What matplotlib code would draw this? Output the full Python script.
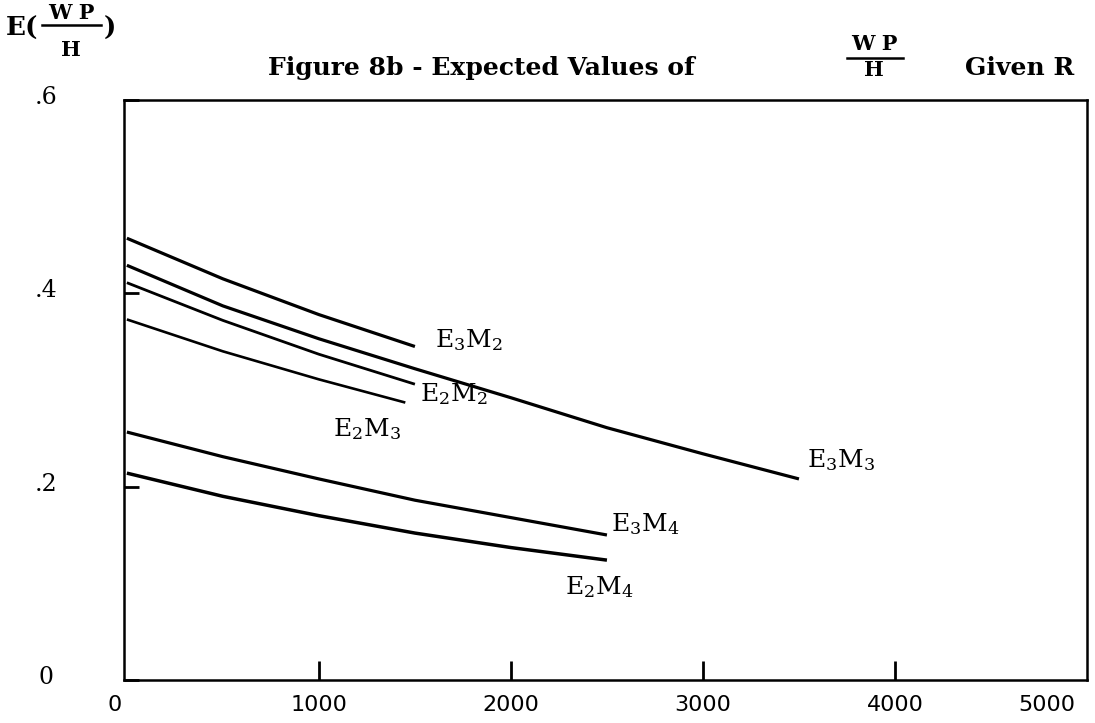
import matplotlib
matplotlib.use("Agg")
import matplotlib.pyplot as plt
from matplotlib.lines import Line2D
from matplotlib.transforms import ScaledTranslation

# ---- data ----
r_e3m2 = [0, 500, 1000, 1500]
v_e3m2 = [0.457, 0.415, 0.378, 0.345]

r_e3m3 = [0, 500, 1000, 1500, 2000, 2500, 3000, 3500]
v_e3m3 = [0.429, 0.387, 0.353, 0.322, 0.292, 0.261, 0.234, 0.208]

r_e2m2 = [0, 500, 1000, 1500]
v_e2m2 = [0.411, 0.372, 0.337, 0.306]

r_e2m3 = [0, 500, 1000, 1450]
v_e2m3 = [0.373, 0.340, 0.311, 0.287]

r_e3m4 = [0, 500, 1000, 1500, 2000, 2500]
v_e3m4 = [0.2565, 0.231, 0.208, 0.186, 0.168, 0.150]

r_e2m4 = [0, 500, 1000, 1500, 2000, 2500]
v_e2m4 = [0.214, 0.190, 0.170, 0.152, 0.137, 0.124]

x_ticks = [0, 1000, 2000, 3000, 4000, 5000]
x_tick_labels = ["0", "1000", "2000", "3000", "4000", "5000"]
y_ticks = [0, 0.2, 0.4, 0.6]
y_tick_labels = ["0", ".2", ".4", ".6"]

series_labels = [r"$\mathrm{E}_{3}\mathrm{M}_{2}$", r"$\mathrm{E}_{3}\mathrm{M}_{3}$",
                 r"$\mathrm{E}_{2}\mathrm{M}_{2}$", r"$\mathrm{E}_{2}\mathrm{M}_{3}$",
                 r"$\mathrm{E}_{3}\mathrm{M}_{4}$", r"$\mathrm{E}_{2}\mathrm{M}_{4}$"]

title_text = "Figure 8b - Expected Values of"
title_num = "W P"
title_den = "H"
title_tail = "Given R"

# ---- figure ----
plt.rcParams["mathtext.fontset"] = "dejavuserif"
W, H = 1095, 723
fig = plt.figure(figsize=(W / 100, H / 100), dpi=100)

def fx(px):
    return px / W

def fy(py):
    return 1 - py / H

ax = fig.add_axes([fx(124), fy(680), fx(1087) - fx(124), fy(100) - fy(680)])
ax.set_xlim(-15, 4985)
ax.set_ylim(0, 0.6)

lw = 2.3
ax.plot(r_e3m2, v_e3m2, color="black", lw=lw, solid_capstyle="butt")
ax.plot(r_e3m3, v_e3m3, color="black", lw=lw, solid_capstyle="butt")
ax.plot(r_e2m2, v_e2m2, color="black", lw=lw - 0.3, solid_capstyle="butt")
ax.plot(r_e2m3, v_e2m3, color="black", lw=lw - 0.4, solid_capstyle="butt")
ax.plot(r_e3m4, v_e3m4, color="black", lw=lw, solid_capstyle="butt")
ax.plot(r_e2m4, v_e2m4, color="black", lw=lw + 0.2, solid_capstyle="butt")

# series labels
lab_pos = [(1780, 0.352), (3720, 0.228), (1700, 0.296), (1250, 0.260), (2700, 0.161), (2460, 0.096)]
for (lx, ly), s in zip(lab_pos, series_labels):
    ax.text(lx, ly, s, fontsize=18, ha="center", va="center", color="black")

for side in ["top", "bottom", "left", "right"]:
    ax.spines[side].set_linewidth(1.8)
    ax.spines[side].set_color("black")

ax.set_xticks(x_ticks)
ax.set_xticklabels(x_tick_labels, fontsize=16, family="DejaVu Sans")
ax.tick_params(axis="x", direction="in", length=14, width=2, pad=11, colors="black")
xt = ax.xaxis.get_major_ticks()
xt[0].tick1line.set_visible(False)
xt[-1].tick1line.set_visible(False)
# shift first and last labels as in the original lettering
xl = ax.get_xticklabels()
xl[0].set_transform(xl[0].get_transform() + ScaledTranslation(-12 / 100, 0, fig.dpi_scale_trans))
xl[-1].set_transform(xl[-1].get_transform() + ScaledTranslation(-40 / 100, 0, fig.dpi_scale_trans))

ax.set_yticks(y_ticks)
ax.set_yticklabels(y_tick_labels, fontsize=17, family="DejaVu Serif")
ax.tick_params(axis="y", direction="in", length=11, width=2, pad=46, colors="black")
for lbl in ax.get_yticklabels():
    lbl.set_horizontalalignment("center")
    lbl.set_transform(lbl.get_transform() + ScaledTranslation(-14 / 100, 5 / 100, fig.dpi_scale_trans))

# title
tfont = dict(family="DejaVu Serif", fontsize=18, fontweight="bold", color="black", va="center")
fig.text(fx(268), fy(68), title_text, ha="left", **tfont)
fig.text(fx(874), fy(44), title_num, ha="center", **{**tfont, "fontsize": 15})
fig.add_artist(Line2D([fx(847), fx(903)], [fy(58), fy(58)], color="black", lw=1.8))
fig.text(fx(874), fy(70), title_den, ha="center", **{**tfont, "fontsize": 15})
fig.text(fx(965), fy(68), title_tail, ha="left", **tfont)

# y-axis label E(WP/H)
fig.text(fx(6), fy(28), "E(", ha="left", **{**tfont, "fontsize": 19})
fig.text(fx(71), fy(13), title_num, ha="center", **{**tfont, "fontsize": 15})
fig.add_artist(Line2D([fx(42), fx(101)], [fy(25), fy(25)], color="black", lw=1.8))
fig.text(fx(71), fy(50), title_den, ha="center", **{**tfont, "fontsize": 15})
fig.text(fx(104), fy(28), ")", ha="left", **{**tfont, "fontsize": 19})

fig.savefig("out.png", dpi=100, facecolor="white")
